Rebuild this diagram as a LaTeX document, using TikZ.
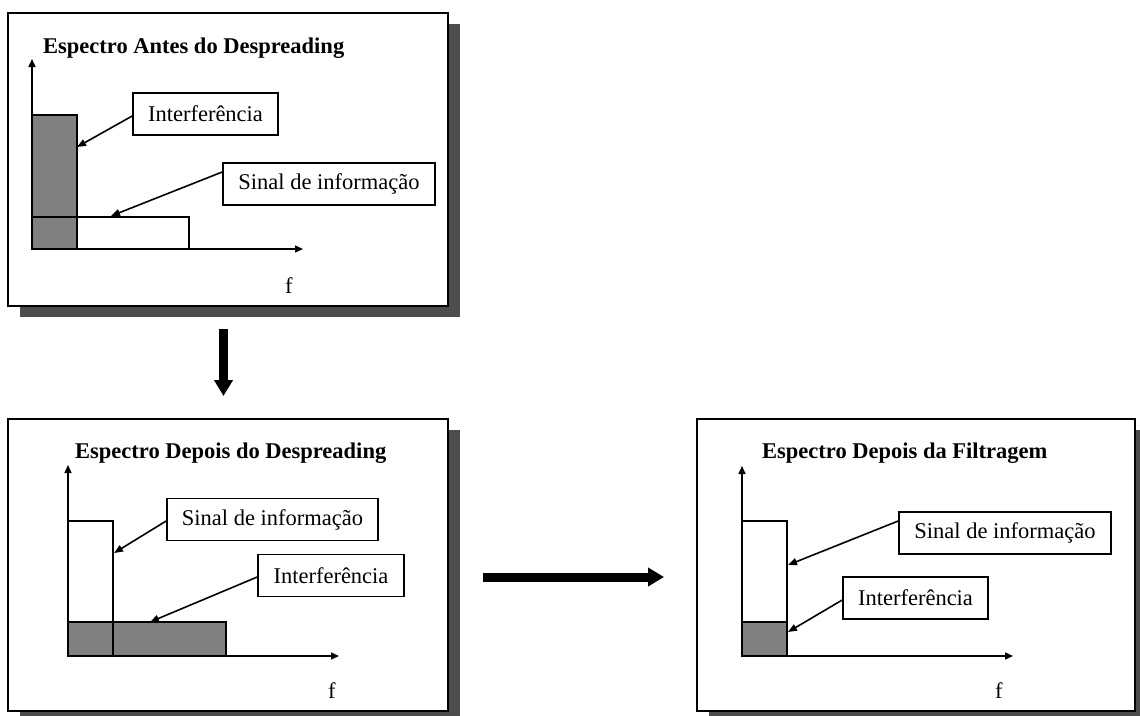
\documentclass[tikz,border=0pt]{standalone}
\usepackage{fontspec}
\setmainfont{Liberation Serif}
\usetikzlibrary{arrows.meta,shadows,calc}
\definecolor{shadowgray}{HTML}{4D4D4D}
\definecolor{bargray}{HTML}{808080}
\tikzset{
  panel/.style={draw=black, line width=2pt, fill=white, inner sep=0pt,
    general shadow={fill=shadowgray, shadow xshift=12pt, shadow yshift=-11pt}},
  title/.style={anchor=base west, inner sep=0pt, font=\fontsize{22.5}{27}\selectfont\bfseries},
  lab/.style={draw=black, line width=1.6pt, fill=white, inner sep=0pt, minimum height=42pt,
    font=\fontsize{22.5}{27}\selectfont},
  flab/.style={anchor=base west, inner sep=0pt, font=\fontsize{22.5}{27}\selectfont},
  axis/.style={line width=1.5pt, -{Triangle[length=8pt,width=7pt]}},
  ptr/.style={line width=1.6pt, -{Triangle[length=9pt,width=7pt]}},
  bar/.style={draw=black, line width=2pt},
  big/.style={line width=9pt, -{Triangle[length=16pt,width=18pt]}}
}
\begin{document}
\begin{tikzpicture}[x=1pt,y=-1pt]
\useasboundingbox[fill=white] (0,0) rectangle (1140,715);
% ---------- panel 1 ----------
\node[panel, minimum width=440pt, minimum height=293pt] (p1) at (228,159.5) {};
\node[title] (t1) at (43,53) {Espectro Antes do Despreading};
\draw[bar, fill=bargray] (32,115) rectangle (77,249);
\draw[bar] (32,217) rectangle (189,249);
\coordinate (o1) at (32,249);
\coordinate (y1) at (32,59);
\coordinate (x1) at (303,249);
\draw[axis] (o1) -- (y1);
\draw[axis] (o1) -- (x1);
\node[lab, minimum width=145pt] (i1) at (205.5,114) {Interfer\^encia};
\node[lab, minimum width=212pt] (s1) at (329,184) {Sinal de informa\c{c}\~ao};
\coordinate (i1t) at (77,147);
\coordinate (s1t) at (111,216);
\draw[ptr] ([yshift=-2pt]i1.west) -- (i1t);
\draw[ptr] ([yshift=12pt]s1.west) -- (s1t);
\node[flab] (f1) at (285,293) {f};
% ---------- down arrow ----------
\coordinate (d1) at (223.5,329);
\coordinate (d2) at (223.5,396);
\draw[big] (d1) -- (d2);
% ---------- panel 2 ----------
\node[panel, minimum width=440pt, minimum height=292pt] (p2) at (228,565) {};
\node[title] (t2) at (75,458) {Espectro Depois do Despreading};
\draw[bar, fill=bargray] (68,622) rectangle (226,656);
\draw[bar] (68,521) rectangle (113,656);
\coordinate (o2) at (68,656);
\coordinate (y2) at (68,465);
\coordinate (x2) at (339,656);
\draw[axis] (o2) -- (y2);
\draw[axis] (o2) -- (x2);
\node[lab, minimum width=211pt] (s2) at (272.5,519.5) {Sinal de informa\c{c}\~ao};
\node[lab, minimum width=146pt] (i2) at (331,575.5) {Interfer\^encia};
\coordinate (s2t) at (114,553);
\coordinate (i2t) at (150,622);
\draw[ptr] ([yshift=-1.5pt]s2.west) -- (s2t);
\draw[ptr] ([yshift=-1.5pt]i2.west) -- (i2t);
\node[flab] (f2) at (328,698) {f};
% ---------- right arrow ----------
\coordinate (r1) at (483,577);
\coordinate (r2) at (664,577);
\draw[big] (r1) -- (r2);
% ---------- panel 3 ----------
\node[panel, minimum width=438pt, minimum height=292pt] (p3) at (916,565) {};
\node[title] (t3) at (762,458) {Espectro Depois da Filtragem};
\draw[bar] (742,521) rectangle (787,656);
\draw[bar, fill=bargray] (742,622) rectangle (787,656);
\coordinate (o3) at (742,656);
\coordinate (y3) at (742,466);
\coordinate (x3) at (1013,656);
\draw[axis] (o3) -- (y3);
\draw[axis] (o3) -- (x3);
\node[lab, minimum width=212pt] (s3) at (1005,533) {Sinal de informa\c{c}\~ao};
\node[lab, minimum width=145pt] (i3) at (915.5,598) {Interfer\^encia};
\coordinate (s3t) at (788,565);
\coordinate (i3t) at (788,632);
\draw[ptr] ([yshift=12pt]s3.west) -- (s3t);
\draw[ptr] ([yshift=-2pt]i3.west) -- (i3t);
\node[flab] (f3) at (995,698) {f};
\end{tikzpicture}
\end{document}
